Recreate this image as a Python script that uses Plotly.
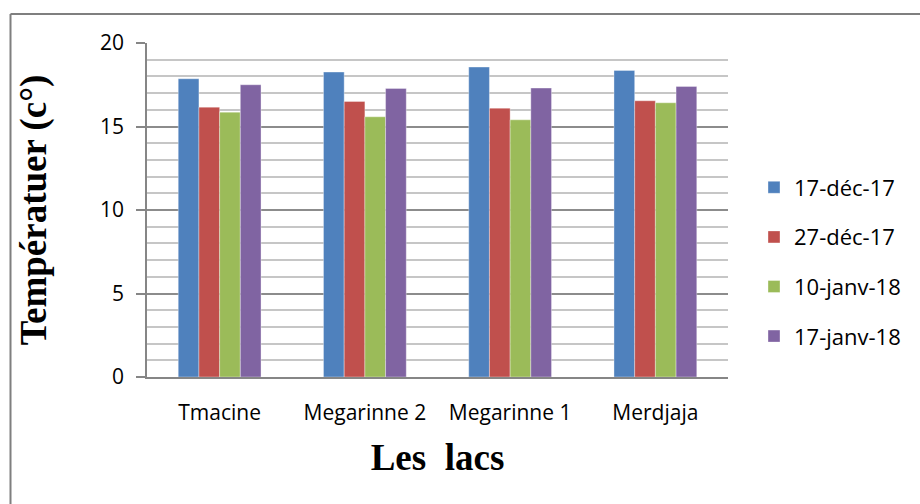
import plotly.graph_objects as go

categories = ["Tmacine", "Megarinne 2", "Megarinne 1", "Merdjaja"]
series_names = ["17-déc-17", "27-déc-17", "10-janv-18", "17-janv-18"]
series_values = [
    [17.86, 18.26, 18.56, 18.36],
    [16.16, 16.50, 16.10, 16.54],
    [15.86, 15.58, 15.40, 16.42],
    [17.50, 17.28, 17.30, 17.40],
]
colors = ["#4F81BD", "#C0504D", "#9BBB59", "#8064A2"]
y_ticks = [0, 5, 10, 15, 20]

W, H = 920, 504
ML, MR, MT, MB = 147, 192, 43, 127
pw, ph = W - ML - MR, H - MT - MB

def px_x(p):
    return (p - ML) / pw

def px_y(p):
    return (H - MB - p) / ph

fig = go.Figure()
for name, vals, c in zip(series_names, series_values, colors):
    fig.add_trace(go.Bar(
        x=categories, y=vals, name=name, legendgroup=name,
        marker=dict(color=c, line=dict(color="rgba(255,255,255,0.35)", width=1)),
    ))

sans = "'Open Sans', 'Noto Sans', sans-serif"
tick_font = dict(family=sans, size=21, color="#000000")
legend_font = dict(family=sans, size=22, color="#000000")
title_font = dict(family="'Liberation Serif', 'Times New Roman', serif", size=37, color="#000000")

fig.update_layout(
    width=W, height=H,
    margin=dict(l=ML, r=MR, t=MT, b=MB, autoexpand=False),
    paper_bgcolor="white", plot_bgcolor="white",
    barmode="group", bargap=0.43, bargroupgap=0,
    font=tick_font,
    legend=dict(
        x=px_x(754), xanchor="left", y=px_y(262), yanchor="middle",
        font=legend_font,
        tracegroupgap=18, bgcolor="rgba(0,0,0,0)",
    ),
    showlegend=True,
)
fig.update_xaxes(
    showline=True, linecolor="#868686", linewidth=1.5,
    ticks="", tickfont=tick_font, showgrid=False, ticklabelstandoff=16,
    title=dict(text="<b>Les  lacs</b>", font=title_font, standoff=19),
)
fig.update_yaxes(
    range=[0, 20], tickvals=y_ticks, ticktext=[str(v) for v in y_ticks],
    showline=True, linecolor="#868686", linewidth=1.5,
    ticks="outside", ticklen=9, tickcolor="#868686", tickwidth=1.5,
    showgrid=True, gridcolor="#8c8c8c", gridwidth=1.5,
    minor=dict(dtick=1, showgrid=True, gridcolor="#c6c6c6", gridwidth=1.5, ticks=""),
    tickfont=tick_font, ticklabelstandoff=8,
    title=dict(text="<b>Températuer (c°)</b>", font=title_font, standoff=42),
    zeroline=False,
)

# outer chart border (top and left edges visible)
fig.add_shape(type="line", xref="paper", yref="paper",
              x0=px_x(10.5), x1=px_x(921), y0=px_y(14), y1=px_y(14),
              line=dict(color="#7f7f7f", width=2))
fig.add_shape(type="line", xref="paper", yref="paper",
              x0=px_x(10.5), x1=px_x(10.5), y0=px_y(14), y1=px_y(505),
              line=dict(color="#7f7f7f", width=2))

fig.write_html("out.html", config={"displayModeBar": False},
               post_script="document.body.style.margin='0';document.body.style.overflow='hidden';")
